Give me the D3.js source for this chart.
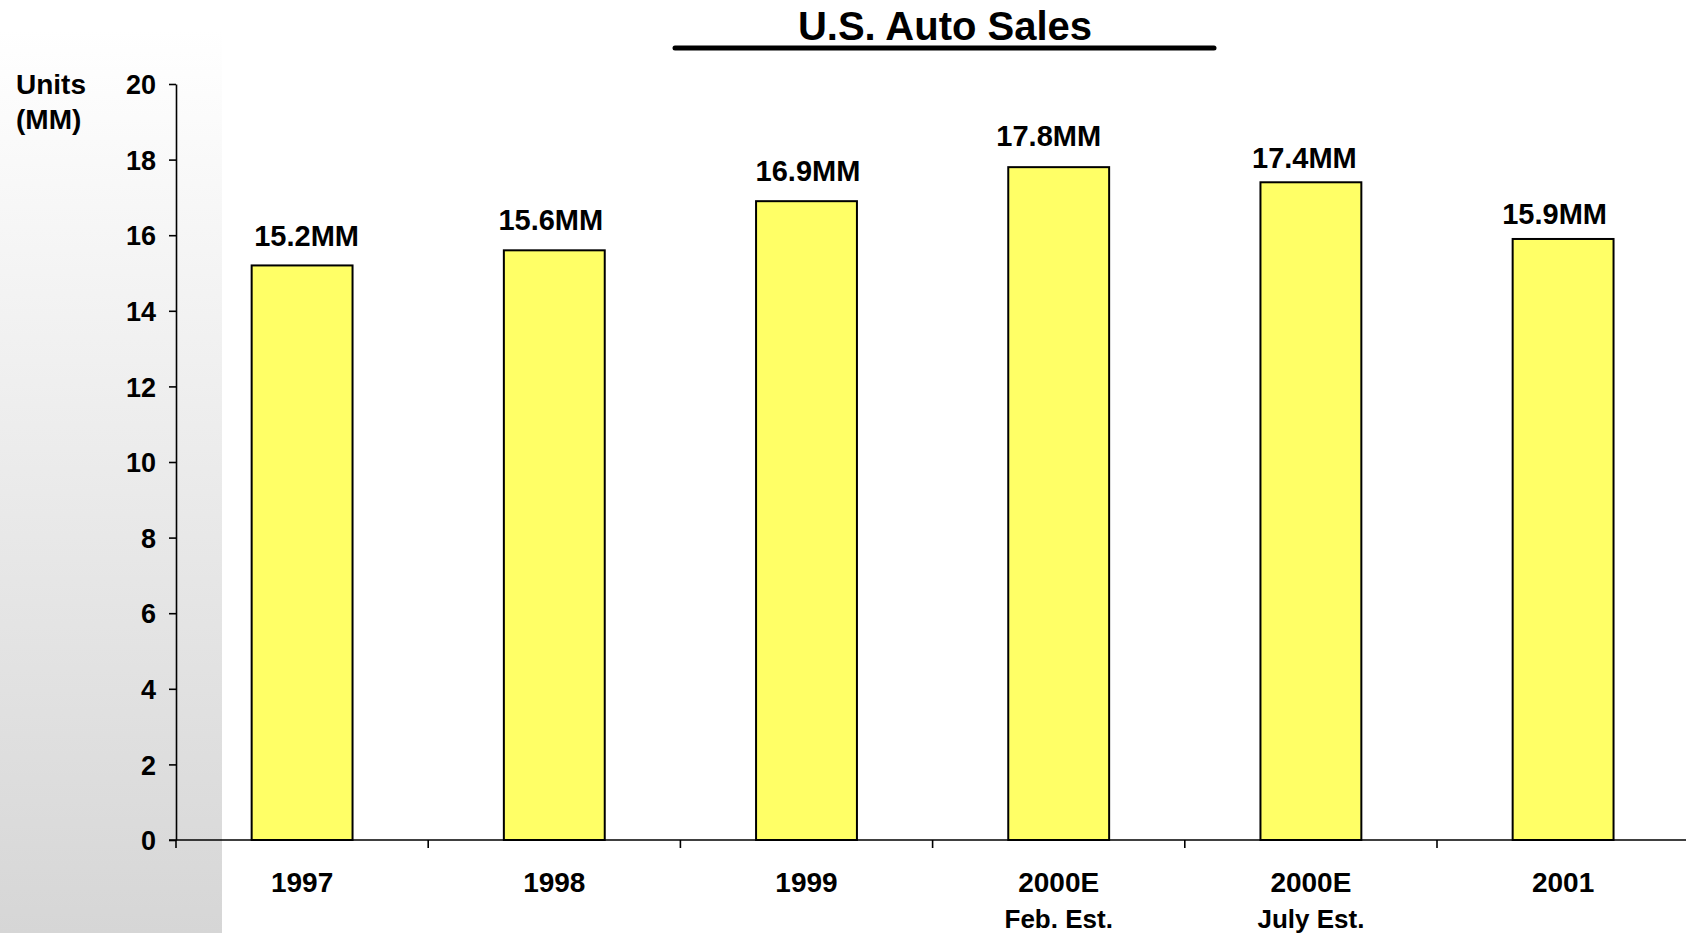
<!DOCTYPE html>
<html><head><meta charset="utf-8">
<script src="https://cdn.jsdelivr.net/npm/d3@7"></script>
<style>
html,body{margin:0;padding:0;background:#fff;}
svg{display:block;font-family:"Liberation Sans",Arial,Helvetica,sans-serif;font-weight:bold;}
</style></head>
<body>
<svg id="chart" width="1686" height="933"></svg>
<script>
const categories = ["1997","1998","1999","2000E","2000E","2001"];
const subLabels = ["","","","Feb. Est.","July Est.",""];
const values = [15.2, 15.6, 16.9, 17.8, 17.4, 15.9];
const valueLabels = ["15.2MM","15.6MM","16.9MM","17.8MM","17.4MM","15.9MM"];
const yTicks = [0,2,4,6,8,10,12,14,16,18,20];
const title = "U.S. Auto Sales";
const yTitle = ["Units","(MM)"];
// hand-placed label nudges in the original (layout, px)
const labelDx = [4.5, -3.5, 1.5, -10, -6.5, -8.5];
const labelGap = [19.7, 20.3, 20.6, 21.6, 14.6, 15];

const W = 1686, H = 933;
const svg = d3.select("#chart");

const defs = svg.append("defs");
const grad = defs.append("linearGradient").attr("id","panelGrad").attr("x1",0).attr("y1",0).attr("x2",0).attr("y2",1);
grad.append("stop").attr("offset","0%").attr("stop-color","#ffffff");
grad.append("stop").attr("offset","100%").attr("stop-color","#d6d6d6");
svg.append("rect").attr("x",0).attr("y",29).attr("width",222).attr("height",H-29).attr("fill","url(#panelGrad)");

const x0 = 176, y0 = 840, yTop = 84;
const step = 252.2;
const x = d3.scaleBand().domain(d3.range(categories.length)).range([x0, x0 + step*categories.length]).paddingInner(0.6).paddingOuter(0.3);
const y = d3.scaleLinear().domain([0,20]).range([y0, yTop]);

svg.append("g").selectAll("rect").data(values).join("rect")
  .attr("x",(d,i)=>x(i)).attr("width",x.bandwidth())
  .attr("y",d=>y(d)).attr("height",d=>y(0)-y(d))
  .attr("fill","#ffff66").attr("stroke","#000").attr("stroke-width",2);

svg.append("g").selectAll("text").data(values).join("text")
  .attr("x",(d,i)=>x(i)+x.bandwidth()/2+labelDx[i]).attr("y",(d,i)=>y(d)-labelGap[i])
  .attr("text-anchor","middle").attr("font-size",29).attr("fill","#000")
  .text((d,i)=>valueLabels[i]);

const yAxis = d3.axisLeft(y).tickValues(yTicks).tickSize(7).tickSizeOuter(0).tickPadding(13);
const gy = svg.append("g").attr("transform",`translate(${x0},0)`).call(yAxis);
gy.select(".domain").attr("stroke","#000").attr("stroke-width",1.6);
gy.selectAll(".tick line").attr("stroke","#000").attr("stroke-width",1.6);
gy.selectAll(".tick text").attr("font-size",27).attr("font-family","Liberation Sans, Arial, sans-serif").attr("font-weight","bold").attr("fill","#000").attr("dy","0.36em");

const gx = svg.append("g");
gx.append("line").attr("x1",x0-7).attr("x2",x0+step*categories.length).attr("y1",y0).attr("y2",y0).attr("stroke","#000").attr("stroke-width",1.6);
const bounds = d3.range(categories.length).map(i=>x(i)-x.step()*x.paddingOuter());
gx.selectAll("line.tk").data(bounds).join("line").attr("class","tk")
  .attr("x1",d=>d).attr("x2",d=>d).attr("y1",y0).attr("y2",y0+8).attr("stroke","#000").attr("stroke-width",1.6);
gx.selectAll("text.cat").data(categories).join("text").attr("class","cat")
  .attr("x",(d,i)=>x(i)+x.bandwidth()/2).attr("y",y0+52)
  .attr("text-anchor","middle").attr("font-size",28).text(d=>d);
gx.selectAll("text.sub").data(subLabels).join("text").attr("class","sub")
  .attr("x",(d,i)=>x(i)+x.bandwidth()/2).attr("y",y0+88)
  .attr("text-anchor","middle").attr("font-size",26).text(d=>d);

svg.append("text").attr("x",16).attr("y",94).attr("font-size",28).text(yTitle[0]);
svg.append("text").attr("x",16).attr("y",129).attr("font-size",28).text(yTitle[1]);

svg.append("text").attr("x",945).attr("y",40).attr("text-anchor","middle").attr("font-size",40).text(title);
svg.append("line").attr("x1",675).attr("x2",1214).attr("y1",48).attr("y2",48).attr("stroke","#000").attr("stroke-width",5).attr("stroke-linecap","round");
</script>
</body></html>
